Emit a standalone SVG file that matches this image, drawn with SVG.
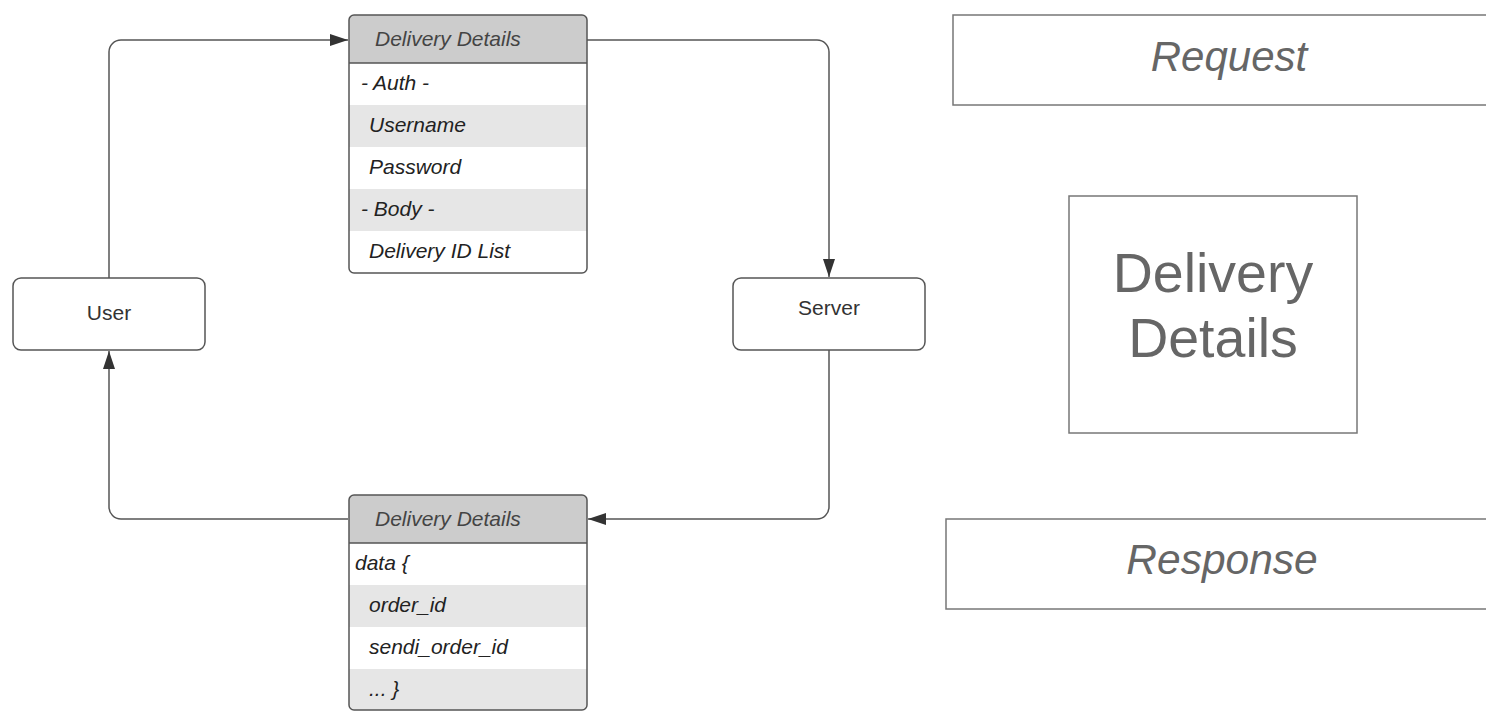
<svg xmlns="http://www.w3.org/2000/svg" width="1486" height="712" viewBox="0 0 1486 712">
<style>
  .node { fill: #ffffff; stroke: #555555; stroke-width: 1.5; }
  .ntxt { font-family: "Liberation Sans", Arial, sans-serif; font-size: 21px; fill: #333333; text-anchor: middle; }
  .hdr { fill: #cccccc; }
  .alt { fill: #e6e6e6; }
  .tbl { fill: none; stroke: #555555; stroke-width: 1.5; }
  .div { stroke: #555555; stroke-width: 1.5; }
  .htxt { font-family: "Liberation Sans", Arial, sans-serif; font-size: 21px; font-style: italic; fill: #444444; }
  .rtxt { font-family: "Liberation Sans", Arial, sans-serif; font-size: 21px; font-style: italic; fill: #222222; }
  .conn { fill: none; stroke: #555555; stroke-width: 1.5; }
  .lbox { fill: #ffffff; stroke: #777777; stroke-width: 1.5; }
  .ltxt { font-family: "Liberation Sans", Arial, sans-serif; fill: #666666; text-anchor: middle; }
</style>
<defs>
  <marker id="arrow" markerUnits="userSpaceOnUse" markerWidth="18" markerHeight="12" refX="18" refY="6" orient="auto">
    <path d="M0,0 L18,6 L0,12 Z" fill="#333333"/>
  </marker>
</defs>
<rect width="1486" height="712" fill="#ffffff"/>

<g id="connectors">
  <path class="conn" d="M109,278 V52 A12,12 0 0 1 121,40 H348" marker-end="url(#arrow)"/>
  <path class="conn" d="M587,40 H817 A12,12 0 0 1 829,52 V277" marker-end="url(#arrow)"/>
  <path class="conn" d="M829,350 V507 A12,12 0 0 1 817,519 H588" marker-end="url(#arrow)"/>
  <path class="conn" d="M348,519 H121 A12,12 0 0 1 109,507 V351" marker-end="url(#arrow)"/>
</g>

<g id="user">
  <rect class="node" x="13" y="278" width="192" height="72" rx="8"/>
  <text class="ntxt" x="109" y="320">User</text>
</g>

<g id="server">
  <rect class="node" x="733" y="278" width="192" height="72" rx="8"/>
  <text class="ntxt" x="829" y="315">Server</text>
</g>

<g id="request-table">
  <rect x="349" y="15" width="238" height="258" rx="5" fill="#ffffff"/>
  <path class="hdr" d="M349,63 V20 A5,5 0 0 1 354,15 H582 A5,5 0 0 1 587,20 V63 Z"/>
  <rect class="alt" x="349" y="105" width="238" height="42"/>
  <rect class="alt" x="349" y="189" width="238" height="42"/>
  <line class="div" x1="349" y1="63" x2="587" y2="63"/>
  <rect class="tbl" x="349" y="15" width="238" height="258" rx="5"/>
  <text class="htxt" x="375" y="46">Delivery Details</text>
  <text class="rtxt" x="361" y="90">- Auth -</text>
  <text class="rtxt" x="369" y="132">Username</text>
  <text class="rtxt" x="369" y="174">Password</text>
  <text class="rtxt" x="361" y="216">- Body -</text>
  <text class="rtxt" x="369" y="258">Delivery ID List</text>
</g>

<g id="response-table">
  <rect x="349" y="495" width="238" height="215" rx="5" fill="#ffffff"/>
  <path class="hdr" d="M349,543 V500 A5,5 0 0 1 354,495 H582 A5,5 0 0 1 587,500 V543 Z"/>
  <rect class="alt" x="349" y="585" width="238" height="42"/>
  <path class="alt" d="M349,669 H587 V705 A5,5 0 0 1 582,710 H354 A5,5 0 0 1 349,705 Z"/>
  <line class="div" x1="349" y1="543" x2="587" y2="543"/>
  <rect class="tbl" x="349" y="495" width="238" height="215" rx="5"/>
  <text class="htxt" x="375" y="526">Delivery Details</text>
  <text class="rtxt" x="355" y="570">data {</text>
  <text class="rtxt" x="369" y="612">order_id</text>
  <text class="rtxt" x="369" y="654">sendi_order_id</text>
  <text class="rtxt" x="369" y="696">... }</text>
</g>

<g id="request-label">
  <rect class="lbox" x="953" y="15" width="540" height="90"/>
  <text class="ltxt" x="1229" y="71" font-size="42" font-style="italic">Request</text>
</g>

<g id="delivery-details-label">
  <rect class="lbox" x="1069" y="196" width="288" height="237" stroke="#999999"/>
  <text class="ltxt" x="1213" y="292" font-size="55.5">Delivery</text>
  <text class="ltxt" x="1213" y="357" font-size="55.5">Details</text>
</g>

<g id="response-label">
  <rect class="lbox" x="946" y="519" width="547" height="90"/>
  <text class="ltxt" x="1222" y="574" font-size="42.5" font-style="italic">Response</text>
</g>
</svg>
